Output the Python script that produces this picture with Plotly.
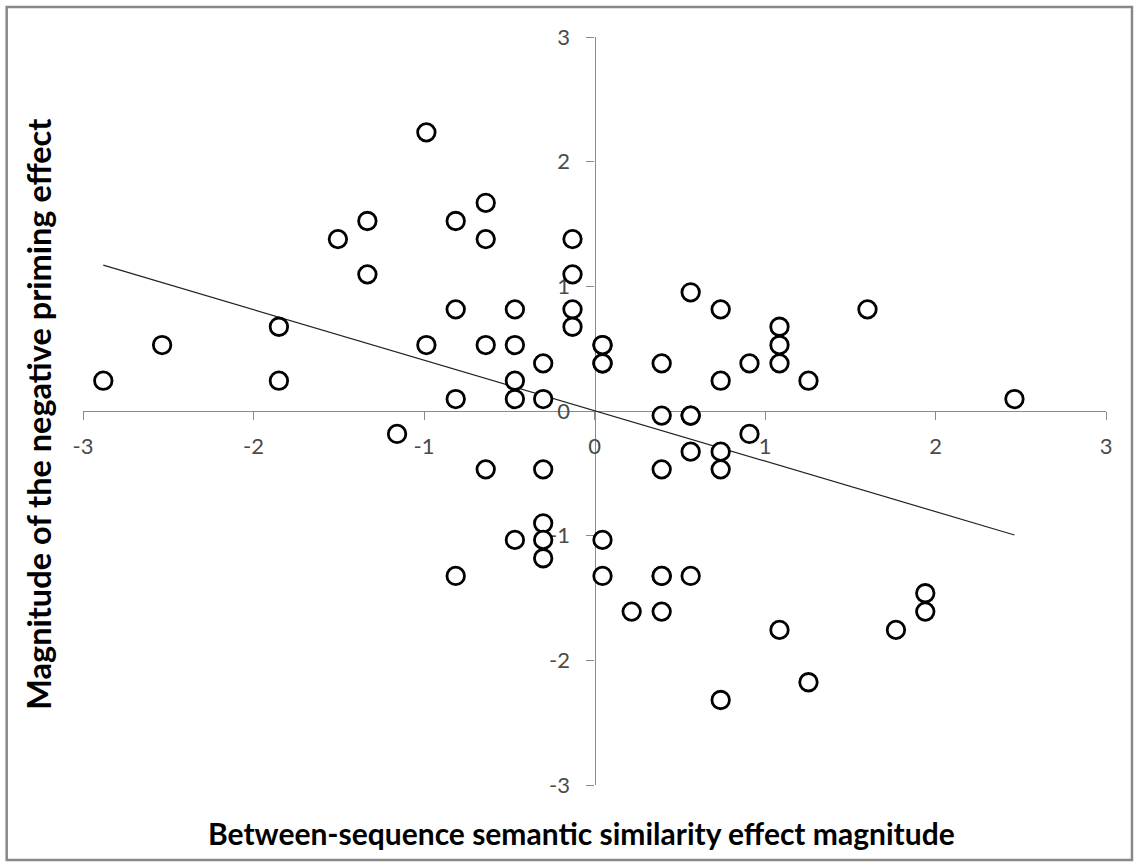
import plotly.graph_objects as go

# --- Data ---
x_vals = [
    -0.986, -0.638, -1.332, -0.814, -1.505, -0.638, -1.332, -0.814, -0.467,
    -1.851, -2.536, -0.986, -0.638, -0.467, -0.301, -2.881, -1.851, -0.467,
    -0.814, -0.467, -0.301,
    -0.129, -0.129, -0.129, -0.129, 0.047, 0.047, 0.047, 0.047, 0.394, 0.564,
    0.740, 0.740, 0.909, 1.085, 1.085, 1.085, 1.255, 1.601, 2.463,
    -1.158, -0.638, -0.301, -0.301, -0.467, -0.301, -0.301, -0.814,
    0.394, 0.564, 0.564, 0.909, 0.564, 0.740, 0.394, 0.740, 0.047, 0.047,
    0.394, 0.394, 0.564, 0.218, 0.394, 1.085, 1.768, 1.940, 1.940, 1.255, 0.740,
]
y_vals = [
    2.235, 1.670, 1.524, 1.524, 1.379, 1.379, 1.096, 0.815, 0.815,
    0.676, 0.529, 0.529, 0.529, 0.529, 0.382, 0.243, 0.243, 0.243,
    0.096, 0.096, 0.096,
    1.379, 1.096, 0.815, 0.676, 0.529, 0.529, 0.382, 0.382, 0.382, 0.952,
    0.815, 0.243, 0.382, 0.676, 0.529, 0.382, 0.243, 0.815, 0.096,
    -0.184, -0.468, -0.468, -0.901, -1.034, -1.034, -1.181, -1.323,
    -0.037, -0.037, -0.037, -0.184, -0.326, -0.326, -0.468, -0.468, -1.034, -1.323,
    -1.323, -1.323, -1.323, -1.609, -1.609, -1.756, -1.756, -1.462, -1.609, -2.176, -2.318,
]

trend_slope = -0.405
trend_intercept = 0.003

tick_vals = [-3, -2, -1, 0, 1, 2, 3]
tick_text = ["-3", "-2", "-1", "0", "1", "2", "3"]

x_title = "Between-sequence semantic similarity effect magnitude"
y_title = "Magnitude of the negative priming effect"

FONT = "Lato, 'Open Sans', sans-serif"
AXIS_COLOR = "#8a8a8a"

x_min, x_max = min(x_vals), max(x_vals)
trend_x = [x_min, x_max]
trend_y = [trend_slope * v + trend_intercept for v in trend_x]

fig = go.Figure()
fig.add_trace(go.Scatter(
    x=trend_x, y=trend_y, mode="lines",
    line=dict(color="#222222", width=1.2),
    hoverinfo="skip", showlegend=False,
))
fig.add_trace(go.Scatter(
    x=x_vals, y=y_vals, mode="markers",
    marker=dict(symbol="circle", size=17.5, color="white",
                line=dict(color="black", width=2.8)),
    showlegend=False,
))

axis_common = dict(
    range=[-3, 3], showgrid=False, zeroline=False,
    showline=True, linecolor=AXIS_COLOR, linewidth=1.3,
    ticks="outside", ticklen=8, tickwidth=1, tickcolor=AXIS_COLOR,
    tickvals=tick_vals, ticktext=tick_text,
    tickfont=dict(family=FONT, size=22, color="#4a4a4a"),
    anchor="free", position=0.5, layer="below traces",
)

fig.update_layout(
    width=1137, height=864,
    margin=dict(l=83, r=31, t=37, b=79),
    paper_bgcolor="white", plot_bgcolor="white",
    xaxis=dict(**axis_common, ticklabelstandoff=7),
    yaxis=dict(**axis_common, ticklabelstandoff=12),
    annotations=[
        dict(text=x_title, xref="paper", yref="paper", x=0.4876, y=-0.064,
             xanchor="center", yanchor="middle", showarrow=False,
             font=dict(family=FONT, size=30, color="black", weight="bold")),
        dict(text=y_title, xref="paper", yref="paper", x=-0.043, y=0.495,
             xanchor="center", yanchor="middle", showarrow=False, textangle=-90,
             font=dict(family=FONT, size=32.5, color="black", weight="bold")),
    ],
    shapes=[
        dict(type="rect", xref="paper", yref="paper",
             x0=-0.0746, x1=1.0254, y0=-0.1003, y1=1.040,
             line=dict(color="#888888", width=2.5), fillcolor="rgba(0,0,0,0)"),
    ],
)

fig.write_html(
    "out.html",
    config={"displayModeBar": False},
    post_script="document.body.style.margin='0';document.body.style.overflow='hidden';",
)
